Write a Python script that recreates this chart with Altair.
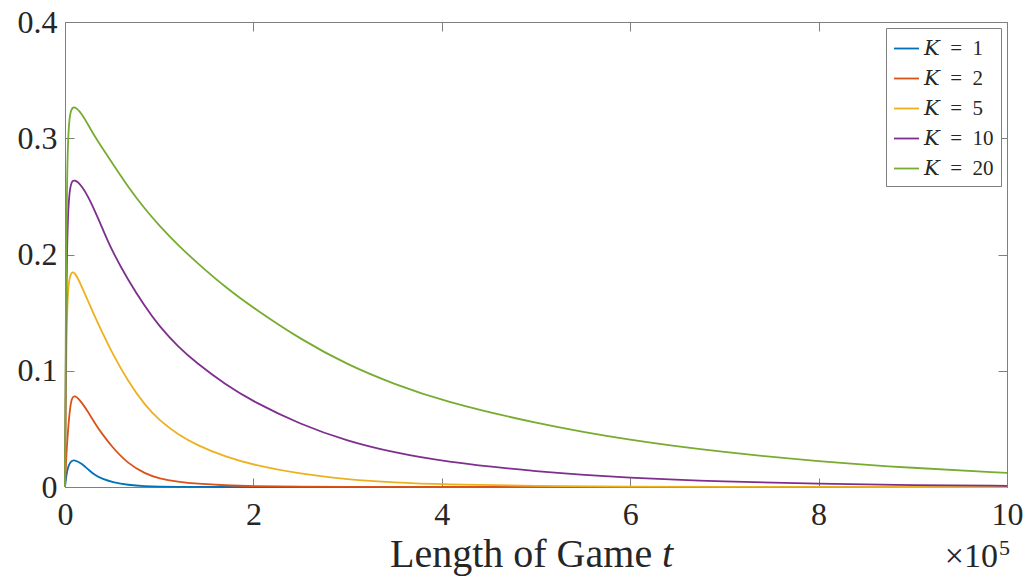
import altair as alt
import pandas as pd

# x in units of 1e5
t_vals = [0, 0.015, 0.035, 0.06, 0.1, 0.18, 0.25, 0.32, 0.4, 0.5, 0.67, 0.85, 1.0, 1.2, 1.4,
          1.7, 2.0, 2.5, 3.0, 3.5, 4.0, 5.0, 6.0, 7.0, 8.0, 9.0, 10.0]
k1 = [0, 0.011, 0.018, 0.022, 0.0236, 0.020, 0.0148, 0.010, 0.0068, 0.0043, 0.0017, 0.0006, 0.00025,
      0.0001, 0.00004, 0, 0, 0, 0, 0, 0, 0, 0, 0, 0, 0, 0]
k2 = [0, 0.03, 0.052, 0.075, 0.080, 0.0725, 0.064, 0.0545, 0.045, 0.0344, 0.020, 0.0115, 0.0072,
      0.0045, 0.0028, 0.0014, 0.0007, 0.00025, 0.0001, 0.00004, 0, 0, 0, 0, 0, 0, 0]
k5 = [0, 0.14, 0.175, 0.184, 0.186, 0.172, 0.159, 0.146, 0.1321, 0.1154, 0.0907, 0.0702, 0.0574,
      0.0450, 0.0360, 0.0261, 0.0189, 0.0111, 0.0065, 0.0038, 0.0022, 0.0008, 0.0003, 0.0001,
      0.00004, 0.00001, 0]
k10 = [0, 0.19, 0.245, 0.262, 0.265, 0.259, 0.249, 0.237, 0.222, 0.203, 0.178, 0.155, 0.1383,
       0.1207, 0.1064, 0.0883, 0.0733, 0.0538, 0.0394, 0.0295, 0.0221, 0.0131, 0.0078, 0.0046,
       0.0027, 0.0016, 0.001]
k20 = [0, 0.25, 0.31, 0.325, 0.328, 0.321, 0.311, 0.301, 0.291, 0.279, 0.258, 0.239, 0.225,
       0.208, 0.193, 0.172, 0.154, 0.127, 0.105, 0.0883, 0.0742, 0.0545, 0.040, 0.0297, 0.022,
       0.0163, 0.0121]

labels = ["\U0001D43E\u2002=\u20021", "\U0001D43E\u2002=\u20022", "\U0001D43E\u2002=\u20025",
          "\U0001D43E\u2002=\u200210", "\U0001D43E\u2002=\u200220"]
series = [k1, k2, k5, k10, k20]
colors = ["#0072BD", "#D95319", "#EDB120", "#7E2F8E", "#77AC30"]

x_ticks = [0, 2, 4, 6, 8, 10]
y_ticks = [0, 0.1, 0.2, 0.3, 0.4]

rows = []
for i, (lab, vals) in enumerate(zip(labels, series)):
    for t, v in zip(t_vals, vals):
        rows.append({"t": t, "v": v, "K": lab, "order": i})
df = pd.DataFrame(rows)

FONT = "Liberation Serif"
GRAY = "#7f7f7f"

xscale = alt.Scale(domain=[0, 10], nice=False, zero=False)
yscale = alt.Scale(domain=[0, 0.4], nice=False)

common_axis = dict(domain=False, grid=False, tickSize=9, offset=-9, tickColor=GRAY,
                   tickWidth=1, title=None, labelFlush=False, labelOverlap=False)

lines = alt.Chart(df).mark_line(strokeWidth=1.8, interpolate="basis").encode(
    x=alt.X("t:Q", scale=xscale,
            axis=alt.Axis(orient="bottom", values=x_ticks, format="d", labelPadding=12, **common_axis)),
    y=alt.Y("v:Q", scale=yscale,
            axis=alt.Axis(orient="left", values=y_ticks, labelPadding=8,
                          labelExpr="datum.value == 0 ? '0' : format(datum.value, '.1f')", **common_axis)),
    color=alt.Color("K:N", scale=alt.Scale(domain=labels, range=colors), sort=labels,
                    legend=alt.Legend(title=None, orient="top-right", offset=6)),
    order=alt.Order("order:Q"),
)

ghost = alt.Chart(df).mark_point(opacity=0).encode(
    x=alt.X("t:Q", scale=xscale,
            axis=alt.Axis(orient="top", values=x_ticks, labels=False, **common_axis)),
    y=alt.Y("v:Q", scale=yscale,
            axis=alt.Axis(orient="right", values=y_ticks, labels=False, **common_axis)),
)

def txt(s, x, y, size, align="left", style="normal"):
    return alt.Chart(pd.DataFrame({"s": [s]})).mark_text(
        font=FONT, fontSize=size, align=align, baseline="alphabetic", fontStyle=style,
        color="#262626").encode(text="s:N", x=alt.value(x), y=alt.value(y))

title1 = txt("Length of Game", 325, 545, 40)
title2 = txt("t", 597, 545, 40, style="italic")
mult = txt("\u00d710", 933, 545, 34, align="right")
sup = txt("5", 934, 533, 22)

chart = alt.layer(lines, ghost, title1, title2, mult, sup).resolve_axis(
    x="independent", y="independent"
).properties(
    width=942, height=465,
    autosize=alt.AutoSizeParams(type="none"),
    padding={"left": 65, "top": 22, "right": 22, "bottom": 95},
    background="white",
).configure_view(
    stroke=GRAY, strokeWidth=1
).configure_axis(
    labelFont=FONT, labelFontSize=32, labelColor="#262626",
).configure_legend(
    labelFont="Liberation Serif, DejaVu Serif", labelFontSize=21, labelColor="#262626",
    strokeColor=GRAY, fillColor="white", padding=7,
    symbolType="stroke", symbolSize=625, symbolStrokeWidth=1.8,
    labelOffset=4, rowPadding=6, cornerRadius=0,
)

chart.save("out.html", embed_options={"renderer": "svg", "actions": False})
